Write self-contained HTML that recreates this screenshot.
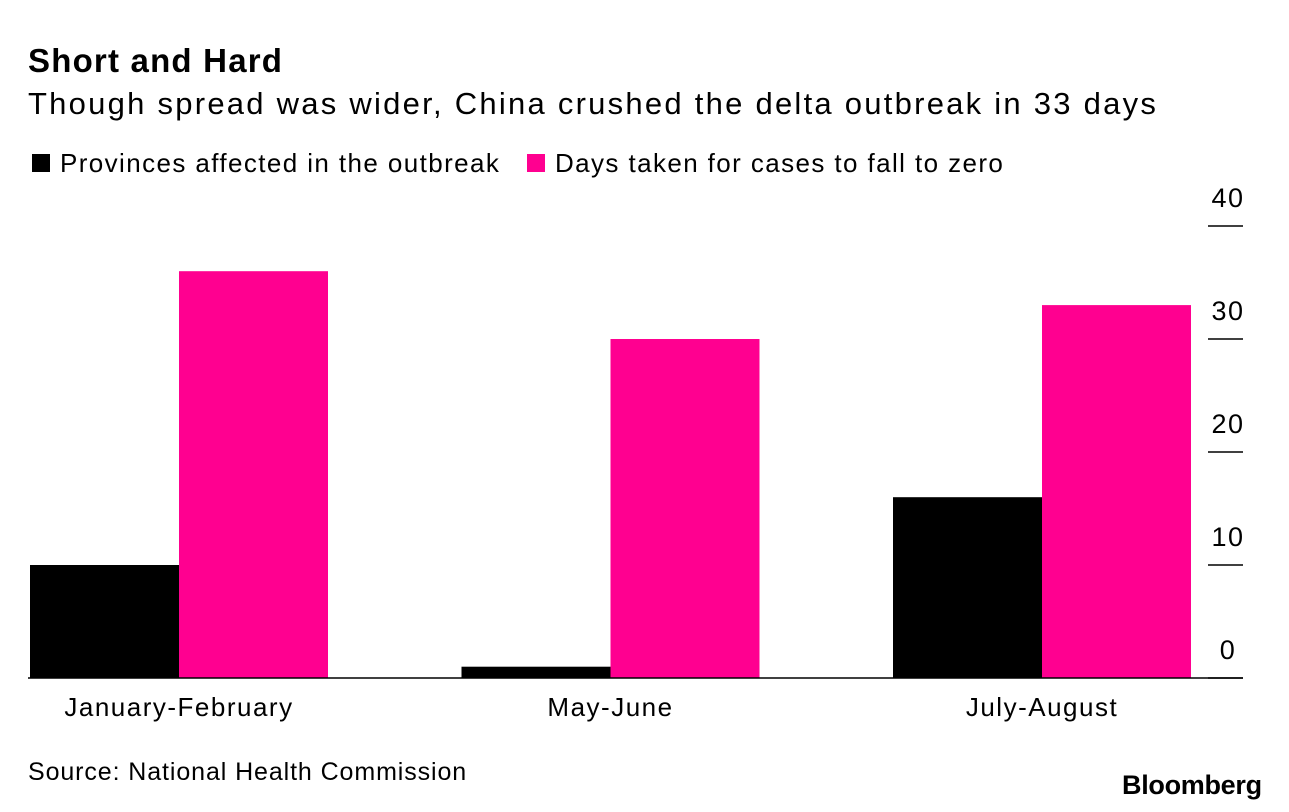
<!DOCTYPE html>
<html><head><meta charset="utf-8"><style>
body{margin:0;background:#fff;font-family:"Liberation Sans",sans-serif;color:#000;width:1289px;height:812px;overflow:hidden;position:relative}
.t{position:absolute;white-space:nowrap}
</style></head><body>
<div class="t" style="left:28px;top:42px;font-size:33px;font-weight:bold;letter-spacing:1.2px">Short and Hard</div>
<div class="t" style="left:28px;top:86px;font-size:31px;letter-spacing:2.25px">Though spread was wider, China crushed the delta outbreak in 33 days</div>
<div class="t" style="left:32px;top:148px;font-size:26px;letter-spacing:1.4px"><span style="display:inline-block;width:18px;height:18px;background:#000;margin-right:10px"></span>Provinces affected in the outbreak</div>
<div class="t" style="left:527px;top:148px;font-size:26px;letter-spacing:1.4px"><span style="display:inline-block;width:18px;height:18px;background:#ff0090;margin-right:10px"></span>Days taken for cases to fall to zero</div>
<svg id="chart" width="1289" height="812" style="position:absolute;left:0;top:0"></svg>
<div class="t" style="left:28px;top:758px;font-size:25px;letter-spacing:0.9px">Source: National Health Commission</div>
<div class="t" style="left:1122px;top:770px;font-size:27px;font-weight:bold;letter-spacing:-0.3px">Bloomberg</div>
<script>
const categories=["January-February","May-June","July-August"];
const provinces=[10,1,16];
const days=[36,30,33];
const ticks=[0,10,20,30,40];
const svg=document.getElementById('chart');
const NS="http://www.w3.org/2000/svg";
const y0=678,pxPer=11.3;
function y(v){return y0-v*pxPer;}
const left=30,band=431.5,bw=149;
function mk(tag,attrs){const e=document.createElementNS(NS,tag);for(const k in attrs)e.setAttribute(k,attrs[k]);svg.appendChild(e);return e;}
ticks.forEach(t=>{
  const l=mk('line',{x1:1208,x2:1243,y1:y(t),y2:y(t),stroke:'#000','stroke-width':1.5});
  
  
  const tx=mk('text',{x:1228,y:y(t)-19,'font-size':27,'text-anchor':'middle','letter-spacing':'1.5','font-family':'Liberation Sans, sans-serif'});
  tx.textContent=t;
  
  
});
categories.forEach((c,i)=>{
  const gx=left+i*band;
  const b1=mk('rect',{x:gx,y:y(provinces[i]),width:bw,height:provinces[i]*pxPer,fill:'#000'});
  
  
  const b2=mk('rect',{x:gx+bw,y:y(days[i]),width:bw,height:days[i]*pxPer,fill:'#ff0090'});
  
  
  const tx=mk('text',{x:gx+bw,y:716,'font-size':26,'text-anchor':'middle','letter-spacing':'1.5','font-family':'Liberation Sans, sans-serif'});
  tx.textContent=c;
  
  
});
const ax=mk('line',{x1:28,x2:1243,y1:y0,y2:y0,stroke:'#000','stroke-width':1.5});


</script>
</body></html>
